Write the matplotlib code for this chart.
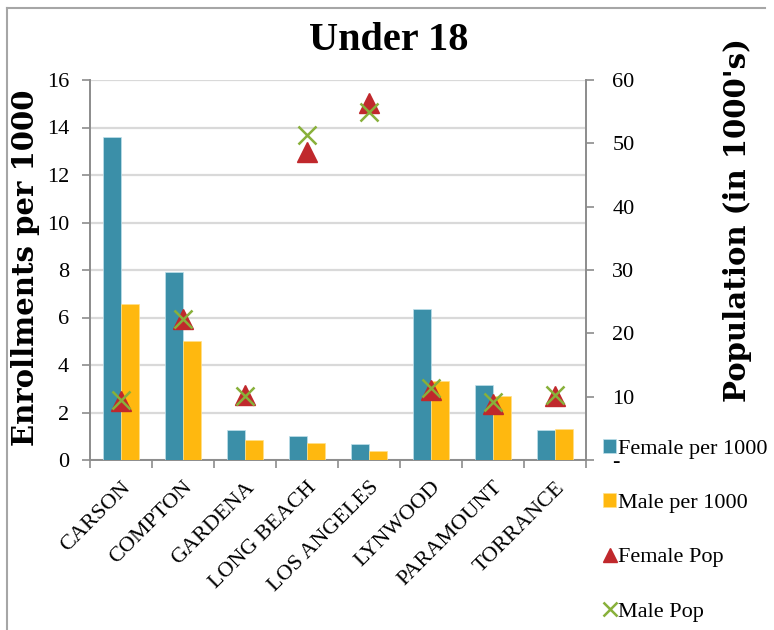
import numpy as np
import matplotlib
matplotlib.use("Agg")
import matplotlib.pyplot as plt
from matplotlib.lines import Line2D
from matplotlib.ticker import FixedLocator, FixedFormatter

# enrollment rates and population for the under-18 group, by city
cities = ["CARSON", "COMPTON", "GARDENA", "LONG BEACH", "LOS ANGELES",
          "LYNWOOD", "PARAMOUNT", "TORRANCE"]
female_per_1000 = [13.62, 7.93, 1.28, 1.00, 0.68, 6.37, 3.15, 1.25]
male_per_1000 = [6.58, 4.99, 0.84, 0.70, 0.38, 3.32, 2.69, 1.31]
female_pop = [9.3, 22.3, 10.2, 48.6, 56.3, 11.0, 8.8, 10.1]
male_pop = [9.4, 22.3, 10.1, 51.3, 55.0, 11.4, 9.1, 10.3]
left_ticks = [0, 2, 4, 6, 8, 10, 12, 14, 16]
right_ticks = [0, 10, 20, 30, 40, 50, 60]
right_labels = ["-", "10", "20", "30", "40", "50", "60"]

TEAL = "#3B8FA8"
GOLD = "#FFB80F"
RED = "#C0282C"
GREEN = "#88B03A"
AXC = "#8C8C8C"
W, H = 774, 630

serif = "Liberation Serif"
plt.rcParams["font.family"] = serif

fig = plt.figure(figsize=(W / 100, H / 100), dpi=100)
ax = fig.add_axes([90 / W, 1 - 460 / H, 496 / W, 380 / H])
ax2 = ax.twinx()

x = np.arange(len(cities))
bw = 0.29
b1 = ax.bar(x - bw / 2, female_per_1000, bw, color=TEAL, edgecolor="#BFE0EA",
            linewidth=0.5, label="Female per 1000", zorder=3)
b2 = ax.bar(x + bw / 2, male_per_1000, bw, color=GOLD, edgecolor="#FFE08A",
            linewidth=0.5, label="Male per 1000", zorder=3)

p1, = ax2.plot(x, female_pop, linestyle="none", marker="^", ms=14,
               color=RED, label="Female Pop", zorder=4)
p2, = ax2.plot(x, male_pop, linestyle="none", marker="x", ms=13, mew=1.8,
               color=GREEN, label="Male Pop", zorder=5)

ax.set_xlim(-0.5, len(cities) - 0.5)
ax.set_ylim(0, 16)
ax2.set_ylim(0, 60)

# gridlines only for the left axis
ax.set_yticks(left_ticks)
ax.yaxis.grid(True, color="#D9D9D9", linewidth=1.6, zorder=0)
ax.set_axisbelow(True)

for a in (ax, ax2):
    for s in a.spines.values():
        s.set_visible(False)
ax.spines["left"].set_visible(True)
ax.spines["bottom"].set_visible(True)
ax2.spines["right"].set_visible(True)
for s in (ax.spines["left"], ax.spines["bottom"], ax2.spines["right"]):
    s.set_color(AXC)
    s.set_linewidth(1.4)

ax.tick_params(axis="y", direction="out", length=6, width=1.2, color=AXC,
               labelsize=16, pad=9)
ax2.yaxis.set_major_locator(FixedLocator(right_ticks))
ax2.yaxis.set_major_formatter(FixedFormatter(right_labels))
ax2.tick_params(axis="y", direction="out", length=6, width=1.2, color=AXC,
                labelsize=16, pad=13)

# category labels centred, tick marks on the category boundaries
ax.set_xticks(x)
ax.set_xticklabels(cities, rotation=45, ha="right", rotation_mode="anchor",
                   fontsize=16)
ax.tick_params(axis="x", which="major", length=0, pad=13)
ax.xaxis.set_minor_locator(FixedLocator(np.arange(-0.5, len(cities), 1.0)))
ax.tick_params(axis="x", which="minor", direction="out", length=6, width=1.2,
               color=AXC)

ax.set_ylabel("Enrollments per 1000", family="DejaVu Serif",
              fontweight="bold", fontsize=21, va="center")
ax.yaxis.set_label_coords((26 - 90) / 496, (460 - 268) / 380)
ax2.set_ylabel("Population (in 1000's)", family="DejaVu Serif",
               fontweight="bold", fontsize=21, rotation=90, va="center")
ax2.yaxis.set_label_coords((738 - 90) / 496, (460 - 220) / 380)

fig.text(389 / W, 1 - 40 / H, "Under 18", ha="center", va="center",
         fontsize=29, fontweight="bold")

fig.legend(handles=[b1, b2, p1, p2], loc="upper left",
           bbox_to_anchor=(594 / W, 1 - 430 / H), frameon=False,
           fontsize=16, handlelength=0.6, handleheight=0.6, markerscale=0.75,
           handletextpad=0.1, labelspacing=1.55, borderaxespad=0)

# chart-area border (top and left edges)
fig.add_artist(Line2D([7 / W, 7 / W], [0, 1 - 8 / H], transform=fig.transFigure,
                      color="#A6A6A6", linewidth=1.5))
fig.add_artist(Line2D([7 / W, 765 / W], [1 - 8 / H, 1 - 8 / H],
                      transform=fig.transFigure, color="#A6A6A6", linewidth=1.5))

fig.savefig("out.png", dpi=100)
